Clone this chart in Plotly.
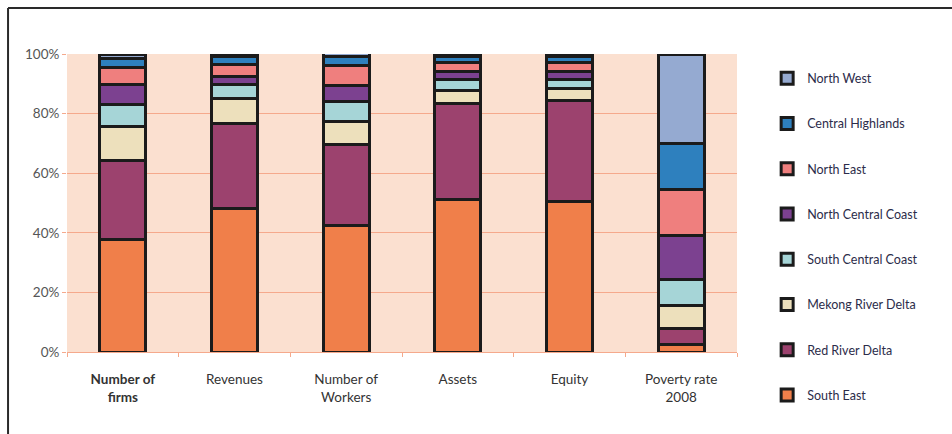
import plotly.graph_objects as go

categories = ["<b>Number of<br>firms</b>", "Revenues", "Number of<br>Workers", "Assets", "Equity", "Poverty rate<br>2008"]

regions = ["South East", "Red River Delta", "Mekong River Delta", "South Central Coast",
           "North Central Coast", "North East", "Central Highlands", "North West"]

south_east = [37.6, 48.0, 42.6, 51.2, 50.4, 2.4]
red_river_delta = [26.8, 28.7, 27.2, 32.1, 33.9, 5.4]
mekong_river_delta = [11.2, 8.4, 7.6, 4.6, 4.0, 7.9]
south_central_coast = [7.3, 4.5, 6.8, 3.4, 3.2, 8.5]
north_central_coast = [6.9, 2.8, 5.2, 2.7, 2.7, 15.0]
north_east = [5.7, 4.1, 6.7, 3.3, 3.0, 15.3]
central_highlands = [3.0, 2.6, 3.0, 1.8, 1.9, 15.5]
north_west = [1.5, 0.9, 1.3, 0.9, 0.9, 30.0]

y_ticks = [0, 20, 40, 60, 80, 100]
y_tick_labels = ["0%", "20%", "40%", "60%", "80%", "100%"]

series = [south_east, red_river_delta, mekong_river_delta, south_central_coast,
          north_central_coast, north_east, central_highlands, north_west]
colors = ["#F07F4A", "#9C426E", "#EDE0BC", "#A6D5D7", "#7C4190", "#EF7F7E", "#2E80BE", "#95AAD1"]

fig = go.Figure()
for i, (name, vals, col) in enumerate(zip(regions, series, colors)):
    fig.add_trace(go.Bar(
        x=categories, y=vals, name=name, legendgroup=name,
        legendrank=len(regions) - i,
        marker=dict(color=col, line=dict(color="#1b1b1b", width=3)),
        width=0.41,
    ))

grid_col = "#F5A98C"
fig.update_layout(
    width=952, height=434,
    barmode="stack",
    paper_bgcolor="white",
    plot_bgcolor="#FBE0D0",
    margin=dict(l=67, r=215, t=54, b=82),
    font=dict(family="Lato, Open Sans, sans-serif", size=12, color="#3a3a3a"),
    legend=dict(
        x=1.045, xanchor="left", y=0.968, yanchor="top",
        traceorder="grouped", tracegroupgap=26,
        maxheight=420,
        font=dict(size=12.5, color="#2c2c4a"),
        bgcolor="rgba(0,0,0,0)",
    ),
    xaxis=dict(
        showgrid=False, showline=True, linecolor=grid_col, linewidth=1,
        ticks="outside", tickson="boundaries", ticklen=4, tickcolor=grid_col,
        ticklabelstandoff=15,
        tickfont=dict(size=13.5, color="#333333"),
    ),
    yaxis=dict(
        range=[0, 100], tickvals=y_ticks, ticktext=y_tick_labels,
        showgrid=True, gridcolor=grid_col, gridwidth=1,
        ticks="outside", ticklen=4, tickcolor=grid_col,
        showline=False, zeroline=False,
        tickfont=dict(size=13.5, color="#555555"),
    ),
    shapes=[
        dict(type="line", xref="paper", yref="paper", x0=-0.088, x1=1.33, y0=1.154, y1=1.154,
             line=dict(color="#2a2a2a", width=2)),
        dict(type="line", xref="paper", yref="paper", x0=-0.088, x1=-0.088, y0=1.154, y1=-0.3,
             line=dict(color="#2a2a2a", width=2)),
    ],
)

fig.write_html("out.html")
